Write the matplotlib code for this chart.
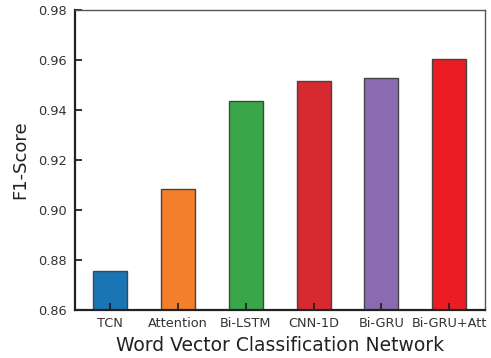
import matplotlib
matplotlib.use("Agg")
import matplotlib.pyplot as plt

# F1 scores per word vector classification network
models = ["TCN", "Attention", "Bi-LSTM", "CNN-1D", "Bi-GRU", "Bi-GRU+Att"]
f1 = [0.8757, 0.9086, 0.9438, 0.9517, 0.9530, 0.9605]
colors = ["#1a75b5", "#f47f2a", "#3aa64a", "#d62a30", "#8a6bb1", "#ec1c24"]

fig, ax = plt.subplots(figsize=(4.91, 3.58), dpi=100)
fig.subplots_adjust(left=0.153, right=0.988, top=0.972, bottom=0.134)

x = range(len(models))
ax.bar(x, f1, width=0.5, color=colors, edgecolor="#444444", linewidth=1.0)

ax.set_ylim(0.86, 0.98)
ax.set_xlim(-0.52, 5.53)
ax.set_yticks([0.86, 0.88, 0.90, 0.92, 0.94, 0.96, 0.98])
ax.set_yticklabels(["%.2f" % v for v in ax.get_yticks()])
ax.set_xticks(list(x))
ax.set_xticklabels(models)

ax.tick_params(direction="in", length=5, width=1.3, colors="#222222",
               labelcolor="#333333", labelsize=9.3)
ax.tick_params(axis="y", pad=6)
ax.tick_params(axis="x", pad=5)

for side in ["left", "bottom"]:
    ax.spines[side].set_linewidth(1.6)
    ax.spines[side].set_color("#222222")
for side in ["top", "right"]:
    ax.spines[side].set_linewidth(1.0)
    ax.spines[side].set_color("#555555")

ax.set_ylabel("F1-Score", fontsize=13, color="#222222", labelpad=6)
ax.set_xlabel("Word Vector Classification Network", fontsize=13.5, color="#222222")

plt.savefig("out.png", dpi=100)
